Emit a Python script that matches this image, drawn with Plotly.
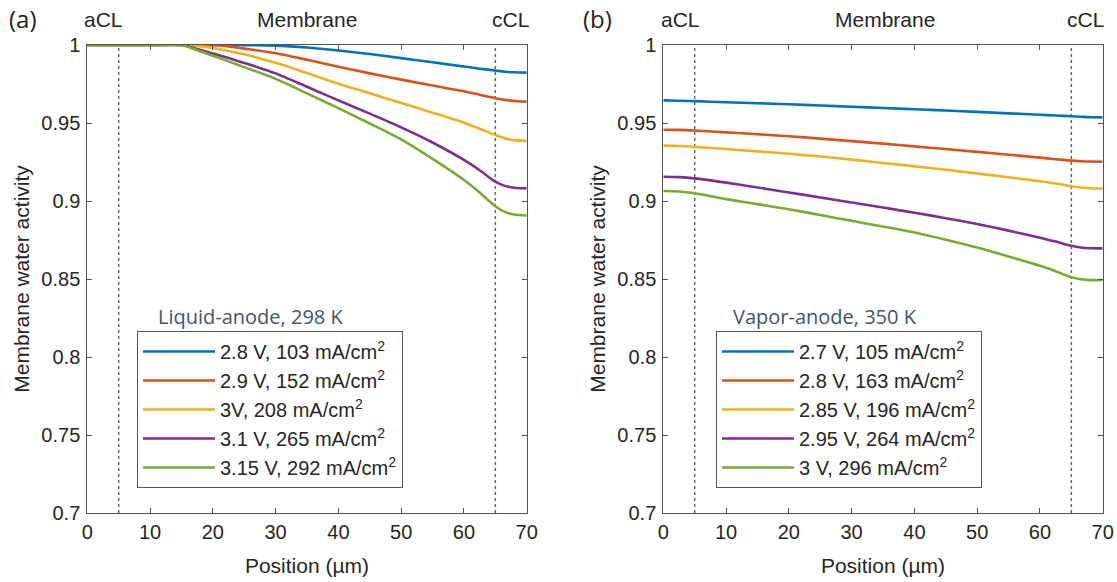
import plotly.graph_objects as go

# ---------------- data ----------------
pos_a = [0, 10, 15, 17.5, 20, 22.5, 25, 30, 35, 40, 45, 50, 55, 60, 62.5, 65, 66.5, 68, 70]
labels_a = ["2.8 V, 103 mA/cm<sup>2</sup>", "2.9 V, 152 mA/cm<sup>2</sup>", "3V, 208 mA/cm<sup>2</sup>",
            "3.1 V, 265 mA/cm<sup>2</sup>", "3.15 V, 292 mA/cm<sup>2</sup>"]
a_28 = [1, 1, 1, 1, 1, 1, 0.99995, 0.9996, 0.9984, 0.9965, 0.9942, 0.9916, 0.9889, 0.9862, 0.9848, 0.9836, 0.9829, 0.9825, 0.9823]
a_29 = [1, 1, 1, 1, 0.9998, 0.9991, 0.9977, 0.9947, 0.9905, 0.9861, 0.9818, 0.9778, 0.9740, 0.9703, 0.9681, 0.9659, 0.9648, 0.9641, 0.9637]
a_30 = [1, 1, 1, 0.9994, 0.9981, 0.9962, 0.9940, 0.9886, 0.9820, 0.9752, 0.9690, 0.9628, 0.9566, 0.9502, 0.9463, 0.9423, 0.9403, 0.9390, 0.9385]
a_31 = [1, 1, 1, 0.9974, 0.9946, 0.9916, 0.9885, 0.9818, 0.9732, 0.9645, 0.9560, 0.9472, 0.9375, 0.9263, 0.9197, 0.9124, 0.9097, 0.9085, 0.9081]
a_315 = [1, 1, 1, 0.9966, 0.9931, 0.9895, 0.9858, 0.9783, 0.9690, 0.9595, 0.9497, 0.9395, 0.9270, 0.9135, 0.9055, 0.8966, 0.8930, 0.8914, 0.8907]

pos_b = [0, 2.5, 5, 10, 15, 20, 25, 30, 35, 40, 45, 50, 55, 60, 62.5, 65, 66.5, 68, 70]
labels_b = ["2.7 V, 105 mA/cm<sup>2</sup>", "2.8 V, 163 mA/cm<sup>2</sup>", "2.85 V, 196 mA/cm<sup>2</sup>",
            "2.95 V, 264 mA/cm<sup>2</sup>", "3 V, 296 mA/cm<sup>2</sup>"]
b_27 = [0.9645, 0.9643, 0.9640, 0.9633, 0.9627, 0.9620, 0.9612, 0.9604, 0.9596, 0.9588, 0.9580, 0.9571, 0.9562, 0.9553, 0.9548, 0.9543, 0.9540, 0.9537, 0.9536]
b_28 = [0.9457, 0.9456, 0.9452, 0.9440, 0.9428, 0.9415, 0.9400, 0.9384, 0.9368, 0.9350, 0.9333, 0.9315, 0.9297, 0.9278, 0.9268, 0.9259, 0.9255, 0.9253, 0.9252]
b_285 = [0.9355, 0.9353, 0.9347, 0.9333, 0.9318, 0.9303, 0.9285, 0.9265, 0.9244, 0.9222, 0.9200, 0.9176, 0.9152, 0.9127, 0.9112, 0.9095, 0.9087, 0.9082, 0.9080]
b_295 = [0.9155, 0.9153, 0.9145, 0.9118, 0.9087, 0.9055, 0.9023, 0.8990, 0.8958, 0.8925, 0.8890, 0.8852, 0.8810, 0.8765, 0.8740, 0.8713, 0.8702, 0.8697, 0.8696]
b_30 = [0.9064, 0.9061, 0.9050, 0.9012, 0.8980, 0.8947, 0.8910, 0.8873, 0.8836, 0.8798, 0.8752, 0.8702, 0.8645, 0.8585, 0.8550, 0.8512, 0.8498, 0.8493, 0.8494]

cl_bounds = [5, 65]
x_ticks = [0, 10, 20, 30, 40, 50, 60, 70]
y_ticks = [0.7, 0.75, 0.8, 0.85, 0.9, 0.95, 1]
y_tick_text = ["0.7", "0.75", "0.8", "0.85", "0.9", "0.95", "1"]

colors = ["#0072BD", "#D95319", "#EDB120", "#7E2F8E", "#77AC30"]

# ---------------- figure ----------------
W, H = 1117, 582
FONT = "Liberation Sans, Arial, sans-serif"
TXT = "#262626"
fig = go.Figure()

for ys, lab, c in zip([a_28, a_29, a_30, a_31, a_315], labels_a, colors):
    fig.add_trace(go.Scatter(x=pos_a, y=ys, mode="lines", name=lab,
                             line=dict(color=c, width=2.6, shape="spline", smoothing=0.7),
                             xaxis="x", yaxis="y", legend="legend"))
for ys, lab, c in zip([b_27, b_28, b_285, b_295, b_30], labels_b, colors):
    fig.add_trace(go.Scatter(x=pos_b, y=ys, mode="lines", name=lab,
                             line=dict(color=c, width=2.6, shape="spline", smoothing=0.7),
                             xaxis="x2", yaxis="y2", legend="legend2"))

# dotted CL boundaries
for xr, yr in [("x", "y"), ("x2", "y2")]:
    for xb in cl_bounds:
        fig.add_shape(type="line", xref=xr, yref=yr, x0=xb, x1=xb, y0=0.7, y1=1,
                      line=dict(color="#666666", width=1.5, dash="dot"), layer="below")

xdom_a = [87.3 / W, 526.7 / W]
xdom_b = [663.3 / W, 1102.7 / W]
ydom = [69 / H, 537 / H]

axis_common = dict(showline=True, linecolor="#555555", linewidth=1, mirror="ticks", automargin=False,
                   ticks="inside", ticklen=5, tickcolor="#555555", showgrid=False, zeroline=False,
                   tickfont=dict(family=FONT, size=20, color=TXT))

xa = dict(range=[0, 70], tickvals=x_ticks, ticklabelstandoff=1,
          title=dict(text="Position (µm)", font=dict(family=FONT, size=21, color=TXT), standoff=16),
          **axis_common)
ya = dict(range=[0.7, 1], tickvals=y_ticks, ticktext=y_tick_text, ticklabelstandoff=2,
          title=dict(text="Membrane water activity", font=dict(family=FONT, size=21, color=TXT), standoff=6),
          **axis_common)

leg_common = dict(xanchor="left", yanchor="top", bordercolor="#555555", borderwidth=1, bgcolor="white",
                  font=dict(family=FONT, size=20, color=TXT), itemwidth=72, tracegroupgap=0)
fig.update_layout(
    width=W, height=H,
    margin=dict(l=0, r=0, t=0, b=0, autoexpand=False),
    paper_bgcolor="white", plot_bgcolor="white",
    xaxis=dict(domain=xdom_a, anchor="y", **xa),
    yaxis=dict(domain=ydom, anchor="x", **ya),
    xaxis2=dict(domain=xdom_b, anchor="y2", **xa),
    yaxis2=dict(domain=ydom, anchor="x2", **ya),
    legend=dict(x=137 / W, y=(H - 331) / H, **leg_common),
    legend2=dict(x=716 / W, y=(H - 331) / H, **leg_common),
)

# top labels
ann = []
for px, txt in [(103, "aCL"), (307, "Membrane"), (510, "cCL"),
                (680, "aCL"), (885, "Membrane"), (1085, "cCL")]:
    ann.append(dict(x=px / W, y=(H - 20) / H, xref="paper", yref="paper", text=txt, showarrow=False,
                    xanchor="center", yanchor="middle", font=dict(family=FONT, size=21, color=TXT)))
for px, txt in [(23, "(a)"), (597, "(b)")]:
    ann.append(dict(x=px / W, y=(H - 19) / H, xref="paper", yref="paper", text=txt, showarrow=False,
                    xanchor="center", yanchor="middle", font=dict(family="Open Sans, sans-serif", size=24, color="#222222")))
for px, txt in [(156, "Liquid-anode, 298 K"), (731, "Vapor-anode, 350 K")]:
    ann.append(dict(x=px / W, y=(H - 316) / H, xref="paper", yref="paper", text=txt, showarrow=False,
                    xanchor="left", yanchor="middle", font=dict(family="Open Sans, sans-serif", size=20, color="#44546A")))
fig.update_layout(annotations=ann)

fig.write_html("out.html")
